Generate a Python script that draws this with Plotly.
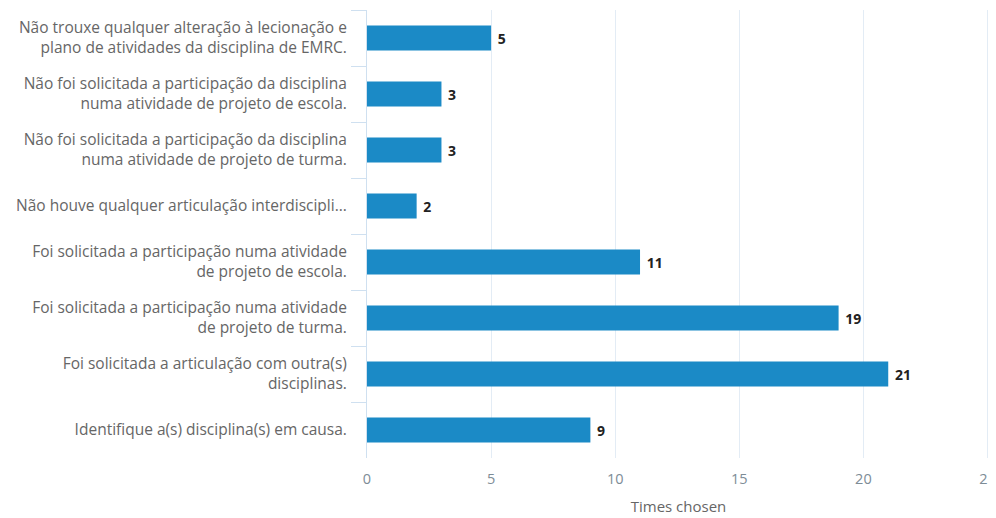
import plotly.graph_objects as go

categories = [
    "Não trouxe qualquer alteração à lecionação e<br>plano de atividades da disciplina de EMRC.",
    "Não foi solicitada a participação da disciplina<br>numa atividade de projeto de escola.",
    "Não foi solicitada a participação da disciplina<br>numa atividade de projeto de turma.",
    "Não houve qualquer articulação interdiscipli...",
    "Foi solicitada a participação numa atividade<br>de projeto de escola.",
    "Foi solicitada a participação numa atividade<br>de projeto de turma.",
    "Foi solicitada a articulação com outra(s)<br>disciplinas.",
    "Identifique a(s) disciplina(s) em causa.",
]
values = [5, 3, 3, 2, 11, 19, 21, 9]
x_ticks = [0, 5, 10, 15, 20, 25]

fig = go.Figure(go.Bar(
    x=values, y=categories, orientation="h",
    marker=dict(color="#1b8ac6", line=dict(width=0)),
    text=["\u00a0" + str(v) for v in values], textposition="outside",
    textfont=dict(family="Open Sans", size=14, color="#222222", weight="bold"),
    cliponaxis=False,
))

fig.update_layout(
    width=988, height=508,
    margin=dict(l=359, r=6, t=2, b=58),
    paper_bgcolor="white", plot_bgcolor="white",
    font=dict(family="Open Sans", size=15.5, color="#666666"),
    bargap=0.55,
    showlegend=False,
    xaxis=dict(
        range=[0, 25.1], tickvals=x_ticks, showgrid=True, gridcolor="#e3ecf5",
        zeroline=False, showline=False, ticks="", ticklabelstandoff=10,
        ticklabeloverflow="allow",
        title=dict(text="Times chosen", font=dict(size=15, color="#666666"), standoff=14),
        tickfont=dict(size=14.5, color="#7d8c96"),
        automargin=False,
    ),
    yaxis=dict(
        autorange="reversed", showline=True, linecolor="#cfe0f0", linewidth=1,
        ticks="outside", ticklen=15, tickcolor="#cfe0f0", tickson="boundaries",
        showgrid=False, tickfont=dict(size=15.5, color="#666666"),
        ticklabelstandoff=16,
    ),
)

fig.write_html("out.html")
